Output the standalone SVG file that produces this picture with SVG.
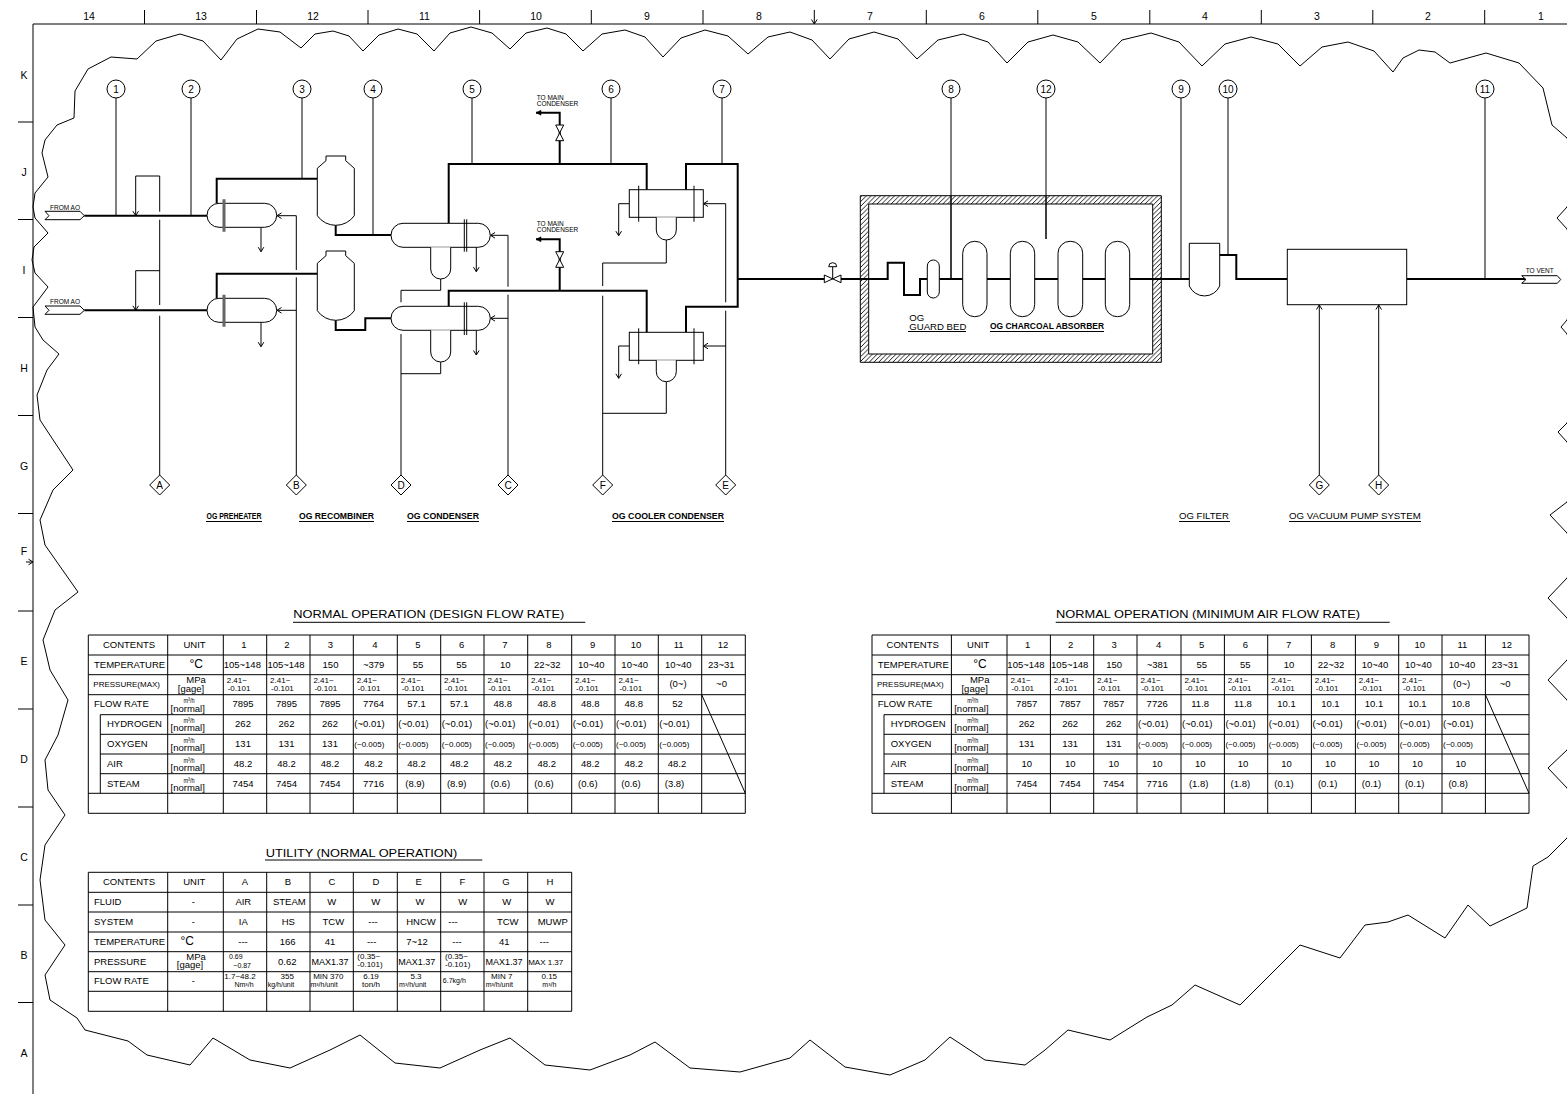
<svg xmlns="http://www.w3.org/2000/svg" width="1567" height="1094" viewBox="0 0 1567 1094">
<style>
text{font-family:"Liberation Sans",Arial,sans-serif;fill:#000;font-size:9.5px}
.c{text-anchor:middle}
.s8{font-size:8px}
.s7{font-size:7px}
.f{font-size:6.5px}
.n{font-size:10px;text-anchor:middle}
.r{font-size:10.5px;text-anchor:middle}
.ttl{font-size:11.5px}
.b{font-weight:700;font-size:8.8px}
.lbl{font-size:9.6px}
.deg{font-size:12px;text-anchor:middle}
.ln,.th,.sh,.grid{fill:none;stroke:#000}
.ln{stroke-width:1}
.th{stroke-width:2}
.sh{stroke-width:1;fill:#fff}
.grid{stroke-width:1}
.in{marker-end:url(#a)}
.in2{marker-end:url(#af)}
</style>
<defs>
<marker id="a" markerUnits="userSpaceOnUse" markerWidth="8" markerHeight="8" refX="6" refY="4" orient="auto"><path d="M1.5,1.2 L6,4 L1.5,6.8" fill="none" stroke="#000" stroke-width="1"/></marker>
<marker id="af" markerUnits="userSpaceOnUse" markerWidth="8" markerHeight="8" refX="6" refY="4" orient="auto"><path d="M1,1.5 L6,4 L1,6.5Z" fill="#000" stroke="#000" stroke-width=".5"/></marker>
<pattern id="h" patternUnits="userSpaceOnUse" width="4.7" height="4.7"><path d="M-1,1 L1,-1 M0,4.7 L4.7,0 M3.7,5.7 L5.7,3.7" stroke="#000" stroke-width=".9"/></pattern>
<path id="grid15" class="grid" d="M88.3,635H745.3V813.3H88.3Z M167.7,635V813.3 M223.3,635V813.3 M266.7,635V813.3 M310,635V813.3 M353.3,635V813.3 M397.3,635V813.3 M440.7,635V813.3 M484,635V813.3 M527.7,635V813.3 M571.7,635V813.3 M615,635V813.3 M658.3,635V813.3 M701.7,635V813.3 M88.3,655H745.3 M88.3,674.7H745.3 M88.3,694.7H745.3 M100.3,714.7H745.3 M100.3,734.3H745.3 M100.3,754H745.3 M100.3,773.7H745.3 M88.3,793.3H745.3 M100.3,714.7V793.3 M701.7,694.7L745.3,793.3"/>
</defs>

<g id="frame">
<path class="ln" d="M33,1094V24H1567"/>
<path class="ln" d="M144.5,10V24M256.5,10V24M368,10V24M479.6,10V24M591.3,10V24M703,10V24M926.3,10V24M1037.8,10V24M1149.8,10V24M1261.3,10V24M1372.8,10V24M1484.7,10V24"/>
<path class="ln in" d="M814.3,10V24"/>
<path class="ln" d="M18,122H33M18,219.5H33M18,317.5H33M18,415.5H33M18,513.5H33M18,611H33M18,709H33M18,807H33M18,905H33M18,1002.5H33"/>
<path class="ln in" d="M26,562H33"/>
<text class="r" x="89" y="20">14</text><text class="r" x="201" y="20">13</text><text class="r" x="313" y="20">12</text><text class="r" x="424.5" y="20">11</text><text class="r" x="536" y="20">10</text><text class="r" x="647" y="20">9</text><text class="r" x="759" y="20">8</text><text class="r" x="870" y="20">7</text><text class="r" x="982" y="20">6</text><text class="r" x="1094" y="20">5</text><text class="r" x="1205" y="20">4</text><text class="r" x="1317" y="20">3</text><text class="r" x="1428" y="20">2</text><text class="r" x="1541" y="20">1</text>
<text class="r" x="24" y="79">K</text><text class="r" x="24" y="176">J</text><text class="r" x="24" y="274">I</text><text class="r" x="24" y="372">H</text><text class="r" x="24" y="470">G</text><text class="r" x="24" y="555">F</text><text class="r" x="24" y="665">E</text><text class="r" x="24" y="763">D</text><text class="r" x="24" y="861">C</text><text class="r" x="24" y="959">B</text><text class="r" x="24" y="1057">A</text>
</g>

<path id="cloud" class="ln" d="M77,1018L50,1000L45,975L65,945L45,920L40,880L45,845L65,815L48,790L45,760L58,735L68,700L50,670L43,640L55,610L78,592L45,545L40,520L53,490L73,470L40,420L37,395L47,370L59,354L43,340L35,327L33,307L48,287L35,273L32,260L34,247L48,233L35,218L33,207L35,193L48,177L42,153L45,140L57,125L74,118L75,91L88,69L111,57L137,59L156,41L180,34L203,41L221,60L237,39L258,29L280,32L301,48L315,34L333,31L349,36L363,51L379,35L398,29L417,34L434,51L450,33L471,27L492,33L510,49L526,33L547,28L566,34L583,51L602,34L625,30L645,37L663,57L681,38L705,30L728,36L748,54L768,37L790,32L812,40L830,59L849,39L874,32L898,39L917,59L938,40L963,34L988,42L1007,63L1028,42L1053,35L1078,42L1100,63L1122,40L1151,33L1179,42L1202,66L1225,44L1251,37L1278,44L1300,66L1322,47L1348,42L1374,51L1393,72L1403,58L1419,50L1435,52L1450,63L1486,53L1519,63L1543,88L1552,125L1567,138L1580,170L1567,207L1557,218L1567,229L1580,275L1567,320L1561,327L1567,334L1580,380L1567,423L1558,432L1567,442L1580,470L1567,502L1550,515L1567,533L1580,555L1567,578L1548,598L1567,618L1580,640L1567,660L1548,680L1567,700L1580,725L1567,750L1548,768L1567,788L1580,815L1567,838L1548,857L1533,866L1527,908L1490,926L1468,905L1445,938L1408,915L1388,922L1365,925L1340,958L1300,945L1270,975L1240,1005L1195,985L1172,1005L1147,1017L1110,1040L1068,1030L1045,1050L1025,1065L985,1060L950,1037L925,1060L890,1075L845,1067L810,1040L790,1058L740,1072L690,1068L655,1042L630,1055L590,1070L545,1065L510,1038L480,1050L440,1068L395,1063L360,1035L330,1050L290,1068L250,1060L213,1038L190,1065L147,1055L128,1041L85,1030Z"/>

<g id="connectors">
<path class="ln" d="M116,98V215.7M191,98V215.7M302,98V178.7M373,98V235M472,98V164M611,98V164M722,98V164M951,98V279M1046,98V239M1181,98V279M1228,98V255M1485,98V279"/>
<path class="th" d="M84.3,215.7H207M84.3,310.3H207"/>
<path class="th" d="M216.7,203.3V178.7H317.3M216.7,298.3V273.7H317.3"/>
<path class="th" d="M335.7,225.3V235H391M335.7,320.3V330H365.3V318.3H391"/>
<path class="th" d="M448.7,223.3V164H646.7V189.7M448.7,306.3V290.7H646.7V332.3"/>
<path class="th" d="M686,189.7V164H737.7V306.7H686V332.3"/>
<path class="th" d="M737.7,279H824.3M841,279H887.7V262.7H904V295H920V279H927.3M939.3,279H962.7M987,279H1010.3M1034.7,279H1058M1082.7,279H1105.3M1129.7,279H1189.3M1219.7,255H1236.3V279H1287.3M1406.7,279H1526"/>
<path class="th in2" d="M559.7,164V112.7H536"/>
<path class="th in2" d="M559.7,290.7V239.3H536"/>
<path class="ln" d="M159.7,211.7V176H135.7"/>
<path class="ln in" d="M135.7,176V215.7"/>
<path class="ln" d="M159.7,219.7V305M159.7,315.7V475M159.7,270.7H135.7"/>
<path class="ln in" d="M135.7,270.7V310.3"/>
<path class="ln" d="M296.3,270V215.7M296.3,277.3V475"/>
<path class="ln in" d="M296.3,215.7H277"/>
<path class="ln in" d="M296.3,310.3H277"/>
<path class="ln in" d="M261,227.3V251.7"/>
<path class="ln in" d="M261,322.3V346.7"/>
<path class="ln in" d="M476.3,247.3V271.7"/>
<path class="ln in" d="M476.3,330.3V355"/>
<path class="ln in" d="M629.3,203.7H618.7V235.7"/>
<path class="ln in" d="M629.3,346H618.7V378.3"/>
<path class="ln" d="M440.7,279V290.3H401V302.3M401,334V475M440.7,362V373.7H401"/>
<path class="ln" d="M508,286.7V235.3M508,294.7V475"/>
<path class="ln in" d="M508,235.3H490.5"/>
<path class="ln in" d="M508,318.3H490.5"/>
<path class="ln" d="M666.3,240V263H602.7V286M602.7,295.7V475M666.3,381.7V413.3H602.7"/>
<path class="ln" d="M725.7,302.3V203.7M725.7,310.7V475"/>
<path class="ln in" d="M725.7,203.7H703.5"/>
<path class="ln in" d="M725.7,346H703.5"/>
<path class="ln in" d="M1319.3,475V305"/>
<path class="ln in" d="M1378.7,475V305"/>
</g>

<g id="flags">
<g id="from-ao-1"><path class="sh" d="M45,211.3H80L84.3,215.7L80,219.7H45L49,215.7Z"/><text class="f" x="50" y="209.5">FROM AO</text></g>
<g id="from-ao-2"><path class="sh" d="M45,306H80L84.3,310.3L80,314.3H45L49,310.3Z"/><text class="f" x="50" y="304">FROM AO</text></g>
<g id="to-vent"><path class="sh" d="M1521.7,275.7H1557.3L1560.7,279.5L1557.3,283.3H1521.7L1526,279.5Z"/><text class="f" x="1525.7" y="273">TO VENT</text></g>
</g>

<g id="og-preheater">
<rect class="sh" x="207" y="203.3" width="69.7" height="24" rx="12"/>
<rect class="sh" x="207" y="298.3" width="69.7" height="24" rx="12"/>
<path d="M224,199.3V231.7M224,294.7V326.7" fill="none" stroke="#666" stroke-width="3"/>
</g>
<g id="og-recombiner">
<path class="sh" d="M326,156H345.7V160.7L354.3,168.3V215.7A22.6,22.6 0 0 1 317.3,215.7V168.3L326,160.7Z"/>
<path class="sh" d="M326,251H345.7V255.7L354.3,263.3V310.7A22.6,22.6 0 0 1 317.3,310.7V263.3L326,255.7Z"/>
</g>
<g id="og-condenser">
<rect class="sh" x="391" y="223.3" width="99.3" height="24" rx="12"/>
<rect class="sh" x="391" y="306.3" width="99.3" height="24" rx="12"/>
<path class="ln" d="M464.3,219.3V251.7M466.7,219.3V251.7M464.3,302.3V335M466.7,302.3V335"/>
<path class="sh" d="M430.7,247.3V269A10,10 0 0 0 450.7,269V247.3"/>
<path class="sh" d="M430.7,330.3V352A10,10 0 0 0 450.7,352V330.3"/>
</g>
<g id="og-cooler-condenser">
<rect class="sh" x="629.3" y="189.7" width="74" height="27.6"/>
<rect class="sh" x="629.3" y="332.3" width="74" height="28"/>
<path class="ln" d="M638.7,185.7V221.7M694,185.7V221.7M638.7,328.3V364.3M694,328.3V364.3"/>
<path class="sh" d="M656.3,217.3V230A10,10 0 0 0 676.3,230V217.3"/>
<path class="sh" d="M656.3,360.3V371.7A10,10 0 0 0 676.3,371.7V360.3"/>
</g>
<g id="valves">
<path class="sh" d="M555.7,125H563.7L555.7,140.7H563.7Z"/>
<path class="sh" d="M555.7,251.7H563.7L555.7,267.3H563.7Z"/>
<path class="sh" d="M824.3,275L841,282.7V275L824.3,282.7Z"/>
<path class="ln" d="M832.7,279V267"/>
<path d="M828.7,266.7A4,4 0 0 1 836.7,266.7Z" fill="#fff" stroke="#000" stroke-width="1"/>
<text class="f" x="536.7" y="100">TO MAIN</text><text class="f" x="536.7" y="105.7">CONDENSER</text>
<text class="f" x="536.7" y="226">TO MAIN</text><text class="f" x="536.7" y="231.7">CONDENSER</text>
</g>
<g id="og-charcoal-vault">
<path d="M860.3,195.7H1161.3V362.3H860.3ZM868.7,204V354H1152.7V204Z" fill="url(#h)" fill-rule="evenodd" stroke="#000" stroke-width="1"/>
<path class="th" d="M860.3,279H887.7M1129.7,279H1161.3"/>
<path class="ln" d="M951,196V279M1046,196V239"/>
<rect class="sh" x="927.3" y="260" width="12" height="38" rx="6"/>
<rect class="sh" x="962.7" y="241.3" width="24.3" height="75.4" rx="12"/>
<rect class="sh" x="1010.3" y="241.3" width="24.4" height="75.4" rx="12"/>
<rect class="sh" x="1058" y="241.3" width="24.7" height="75.4" rx="12"/>
<rect class="sh" x="1105.3" y="241.3" width="24.4" height="75.4" rx="12"/>
<text class="lbl" x="909.3" y="320.7">OG</text><text class="lbl" x="909.3" y="330">GUARD BED</text>
<text class="b" x="990" y="328.7" textLength="114" lengthAdjust="spacingAndGlyphs">OG CHARCOAL ABSORBER</text>
<path class="ln" d="M908,331.5H966M990,331.5H1104"/>
</g>
<g id="og-filter">
<path class="sh" d="M1189.3,243.3H1219.7V286A16.6,16.6 0 0 1 1189.3,286Z"/>
<text class="lbl" x="1179" y="519">OG FILTER</text><path class="ln" d="M1179,521.5H1230"/>
</g>
<g id="og-vacuum-pump">
<rect class="sh" x="1287.3" y="249.3" width="119.4" height="55.4"/>
<text class="lbl" x="1289" y="519" textLength="131.7" lengthAdjust="spacingAndGlyphs">OG VACUUM PUMP SYSTEM</text><path class="ln" d="M1289,521.5H1421"/>
</g>
<g id="section-labels">
<text class="b" x="206.5" y="519" textLength="55" lengthAdjust="spacingAndGlyphs">OG PREHEATER</text>
<text class="b" x="299" y="519" textLength="75" lengthAdjust="spacingAndGlyphs">OG RECOMBINER</text>
<text class="b" x="407" y="519" textLength="72" lengthAdjust="spacingAndGlyphs">OG CONDENSER</text>
<text class="b" x="612" y="519" textLength="112" lengthAdjust="spacingAndGlyphs">OG COOLER CONDENSER</text>
<path class="ln" d="M206,521.5H262M299,521.5H374M407,521.5H479M612,521.5H724"/>
</g>

<g id="tags">
<g id="tag1"><circle class="sh" cx="116" cy="89" r="9"/><text class="n" x="116" y="92.5">1</text></g>
<g id="tag2"><circle class="sh" cx="191" cy="89" r="9"/><text class="n" x="191" y="92.5">2</text></g>
<g id="tag3"><circle class="sh" cx="302" cy="89" r="9"/><text class="n" x="302" y="92.5">3</text></g>
<g id="tag4"><circle class="sh" cx="373" cy="89" r="9"/><text class="n" x="373" y="92.5">4</text></g>
<g id="tag5"><circle class="sh" cx="472" cy="89" r="9"/><text class="n" x="472" y="92.5">5</text></g>
<g id="tag6"><circle class="sh" cx="611" cy="89" r="9"/><text class="n" x="611" y="92.5">6</text></g>
<g id="tag7"><circle class="sh" cx="722" cy="89" r="9"/><text class="n" x="722" y="92.5">7</text></g>
<g id="tag8"><circle class="sh" cx="951" cy="89" r="9"/><text class="n" x="951" y="92.5">8</text></g>
<g id="tag12"><circle class="sh" cx="1046" cy="89" r="9"/><text class="n" x="1046" y="92.5">12</text></g>
<g id="tag9"><circle class="sh" cx="1181" cy="89" r="9"/><text class="n" x="1181" y="92.5">9</text></g>
<g id="tag10"><circle class="sh" cx="1228" cy="89" r="9"/><text class="n" x="1228" y="92.5">10</text></g>
<g id="tag11"><circle class="sh" cx="1485" cy="89" r="9"/><text class="n" x="1485" y="92.5">11</text></g>
</g>
<g id="utility-tags">
<g id="utilA"><path class="sh" d="M159.7,475L169.7,485L159.7,495L149.7,485Z"/><text class="n" x="159.7" y="488.6">A</text></g>
<g id="utilB"><path class="sh" d="M296.3,475L306.3,485L296.3,495L286.3,485Z"/><text class="n" x="296.3" y="488.6">B</text></g>
<g id="utilD"><path class="sh" d="M401,475L411,485L401,495L391,485Z"/><text class="n" x="401" y="488.6">D</text></g>
<g id="utilC"><path class="sh" d="M508,475L518,485L508,495L498,485Z"/><text class="n" x="508" y="488.6">C</text></g>
<g id="utilF"><path class="sh" d="M602.7,475L612.7,485L602.7,495L592.7,485Z"/><text class="n" x="602.7" y="488.6">F</text></g>
<g id="utilE"><path class="sh" d="M725.7,475L735.7,485L725.7,495L715.7,485Z"/><text class="n" x="725.7" y="488.6">E</text></g>
<g id="utilG"><path class="sh" d="M1319.3,475L1329.3,485L1319.3,495L1309.3,485Z"/><text class="n" x="1319.3" y="488.6">G</text></g>
<g id="utilH"><path class="sh" d="M1378.7,475L1388.7,485L1378.7,495L1368.7,485Z"/><text class="n" x="1378.7" y="488.6">H</text></g>
</g>

<g id="table-design">
<text class="ttl" x="293.3" y="618.3" textLength="271" lengthAdjust="spacingAndGlyphs">NORMAL OPERATION (DESIGN FLOW RATE)</text><path class="ln" d="M293,622.3H585.3"/>
<use href="#grid15"/>
<text class="c" x="129" y="647.7">CONTENTS</text><text class="c" x="194.5" y="647.7">UNIT</text>
<text class="c" x="244" y="647.7">1</text><text class="c" x="287" y="647.7">2</text><text class="c" x="330.5" y="647.7">3</text><text class="c" x="375" y="647.7">4</text><text class="c" x="418" y="647.7">5</text><text class="c" x="461.7" y="647.7">6</text><text class="c" x="505" y="647.7">7</text><text class="c" x="549" y="647.7">8</text><text class="c" x="592.7" y="647.7">9</text><text class="c" x="636" y="647.7">10</text><text class="c" x="678.7" y="647.7">11</text><text class="c" x="723" y="647.7">12</text>
<text x="94" y="667.7">TEMPERATURE</text><text class="deg" x="196.3" y="668">°C</text>
<text class="c" x="242.3" y="667.7">105~148</text><text class="c" x="286" y="667.7">105~148</text><text class="c" x="330.5" y="667.7">150</text><text class="c" x="373.7" y="667.7">~379</text><text class="c" x="418" y="667.7">55</text><text class="c" x="461.5" y="667.7">55</text><text class="c" x="505.3" y="667.7">10</text><text class="c" x="547.3" y="667.7">22~32</text><text class="c" x="591.3" y="667.7">10~40</text><text class="c" x="634.7" y="667.7">10~40</text><text class="c" x="678.3" y="667.7">10~40</text><text class="c" x="721.3" y="667.7">23~31</text>
<text class="s8" x="93.3" y="687">PRESSURE(MAX)</text><text class="c" x="196" y="683.4">MPa</text><text class="c" x="191" y="691.6">[gage]</text>
<text class="s8" x="226.7" y="682.7">2.41~</text><text class="s8" x="227.7" y="691.3">-0.101</text><text class="s8" x="270.1" y="682.7">2.41~</text><text class="s8" x="271.1" y="691.3">-0.101</text><text class="s8" x="313.4" y="682.7">2.41~</text><text class="s8" x="314.4" y="691.3">-0.101</text><text class="s8" x="356.7" y="682.7">2.41~</text><text class="s8" x="357.7" y="691.3">-0.101</text><text class="s8" x="400.7" y="682.7">2.41~</text><text class="s8" x="401.7" y="691.3">-0.101</text><text class="s8" x="444.1" y="682.7">2.41~</text><text class="s8" x="445.1" y="691.3">-0.101</text><text class="s8" x="487.4" y="682.7">2.41~</text><text class="s8" x="488.4" y="691.3">-0.101</text><text class="s8" x="531.1" y="682.7">2.41~</text><text class="s8" x="532.1" y="691.3">-0.101</text><text class="s8" x="575.1" y="682.7">2.41~</text><text class="s8" x="576.1" y="691.3">-0.101</text><text class="s8" x="618.4" y="682.7">2.41~</text><text class="s8" x="619.4" y="691.3">-0.101</text>
<text class="c" x="678" y="687">(0~)</text><text class="c" x="721.5" y="687">~0</text>
<text x="94" y="707.3">FLOW RATE</text><text class="s8 c" x="189" y="703.3" textLength="11" lengthAdjust="spacingAndGlyphs">m³/h</text><text class="c" x="187.7" y="711.6">[normal]</text>
<text class="c" x="243" y="707.3">7895</text><text class="c" x="286.5" y="707.3">7895</text><text class="c" x="330" y="707.3">7895</text><text class="c" x="373.5" y="707.3">7764</text><text class="c" x="416.5" y="707.3">57.1</text><text class="c" x="459.3" y="707.3">57.1</text><text class="c" x="502.8" y="707.3">48.8</text><text class="c" x="546.7" y="707.3">48.8</text><text class="c" x="590.3" y="707.3">48.8</text><text class="c" x="633.7" y="707.3">48.8</text><text class="c" x="677.5" y="707.3">52</text>
<text x="107" y="727.3">HYDROGEN</text><text class="s8 c" x="189" y="723.1" textLength="11" lengthAdjust="spacingAndGlyphs">m³/h</text><text class="c" x="187.7" y="731.4">[normal]</text>
<text class="c" x="243" y="727.3">262</text><text class="c" x="286.5" y="727.3">262</text><text class="c" x="330" y="727.3">262</text><text x="354.3" y="727.3">(~0.01)</text><text x="398.3" y="727.3">(~0.01)</text><text x="441.7" y="727.3">(~0.01)</text><text x="485" y="727.3">(~0.01)</text><text x="528.7" y="727.3">(~0.01)</text><text x="572.7" y="727.3">(~0.01)</text><text x="616" y="727.3">(~0.01)</text><text x="659.3" y="727.3">(~0.01)</text>
<text x="107" y="747">OXYGEN</text><text class="s8 c" x="189" y="742.8" textLength="11" lengthAdjust="spacingAndGlyphs">m³/h</text><text class="c" x="187.7" y="751.1">[normal]</text>
<text class="c" x="243" y="747">131</text><text class="c" x="286.5" y="747">131</text><text class="c" x="330" y="747">131</text><text class="s8" x="354.3" y="746.8">(~0.005)</text><text class="s8" x="398.3" y="746.8">(~0.005)</text><text class="s8" x="441.7" y="746.8">(~0.005)</text><text class="s8" x="485" y="746.8">(~0.005)</text><text class="s8" x="528.7" y="746.8">(~0.005)</text><text class="s8" x="572.7" y="746.8">(~0.005)</text><text class="s8" x="616" y="746.8">(~0.005)</text><text class="s8" x="659.3" y="746.8">(~0.005)</text>
<text x="107" y="766.7">AIR</text><text class="s8 c" x="189" y="762.5" textLength="11" lengthAdjust="spacingAndGlyphs">m³/h</text><text class="c" x="187.7" y="770.8">[normal]</text>
<text class="c" x="243" y="766.7">48.2</text><text class="c" x="286.5" y="766.7">48.2</text><text class="c" x="330" y="766.7">48.2</text><text class="c" x="373.5" y="766.7">48.2</text><text class="c" x="416.5" y="766.7">48.2</text><text class="c" x="459.3" y="766.7">48.2</text><text class="c" x="502.8" y="766.7">48.2</text><text class="c" x="546.7" y="766.7">48.2</text><text class="c" x="590.3" y="766.7">48.2</text><text class="c" x="633.7" y="766.7">48.2</text><text class="c" x="677" y="766.7">48.2</text>
<text x="107" y="787">STEAM</text><text class="s8 c" x="189" y="782.5" textLength="11" lengthAdjust="spacingAndGlyphs">m³/h</text><text class="c" x="187.7" y="790.8">[normal]</text>
<text class="c" x="243" y="787">7454</text><text class="c" x="286.5" y="787">7454</text><text class="c" x="330" y="787">7454</text><text class="c" x="373.5" y="787">7716</text><text class="c" x="415" y="787">(8.9)</text><text class="c" x="456.7" y="787">(8.9)</text><text class="c" x="500.3" y="787">(0.6)</text><text class="c" x="544" y="787">(0.6)</text><text class="c" x="587.8" y="787">(0.6)</text><text class="c" x="631" y="787">(0.6)</text><text class="c" x="674.5" y="787">(3.8)</text>
</g>

<g id="table-minimum" transform="translate(783.7,0)">
<text class="ttl" x="272.3" y="618.3" textLength="304" lengthAdjust="spacingAndGlyphs">NORMAL OPERATION (MINIMUM AIR FLOW RATE)</text><path class="ln" d="M272,622.3H606"/>
<use href="#grid15"/>
<text class="c" x="129" y="647.7">CONTENTS</text><text class="c" x="194.5" y="647.7">UNIT</text>
<text class="c" x="244" y="647.7">1</text><text class="c" x="287" y="647.7">2</text><text class="c" x="330.5" y="647.7">3</text><text class="c" x="375" y="647.7">4</text><text class="c" x="418" y="647.7">5</text><text class="c" x="461.7" y="647.7">6</text><text class="c" x="505" y="647.7">7</text><text class="c" x="549" y="647.7">8</text><text class="c" x="592.7" y="647.7">9</text><text class="c" x="636" y="647.7">10</text><text class="c" x="678.7" y="647.7">11</text><text class="c" x="723" y="647.7">12</text>
<text x="94" y="667.7">TEMPERATURE</text><text class="deg" x="196.3" y="668">°C</text>
<text class="c" x="242.3" y="667.7">105~148</text><text class="c" x="286" y="667.7">105~148</text><text class="c" x="330.5" y="667.7">150</text><text class="c" x="373.7" y="667.7">~381</text><text class="c" x="418" y="667.7">55</text><text class="c" x="461.5" y="667.7">55</text><text class="c" x="505.3" y="667.7">10</text><text class="c" x="547.3" y="667.7">22~32</text><text class="c" x="591.3" y="667.7">10~40</text><text class="c" x="634.7" y="667.7">10~40</text><text class="c" x="678.3" y="667.7">10~40</text><text class="c" x="721.3" y="667.7">23~31</text>
<text class="s8" x="93.3" y="687">PRESSURE(MAX)</text><text class="c" x="196" y="683.4">MPa</text><text class="c" x="191" y="691.6">[gage]</text>
<text class="s8" x="226.7" y="682.7">2.41~</text><text class="s8" x="227.7" y="691.3">-0.101</text><text class="s8" x="270.1" y="682.7">2.41~</text><text class="s8" x="271.1" y="691.3">-0.101</text><text class="s8" x="313.4" y="682.7">2.41~</text><text class="s8" x="314.4" y="691.3">-0.101</text><text class="s8" x="356.7" y="682.7">2.41~</text><text class="s8" x="357.7" y="691.3">-0.101</text><text class="s8" x="400.7" y="682.7">2.41~</text><text class="s8" x="401.7" y="691.3">-0.101</text><text class="s8" x="444.1" y="682.7">2.41~</text><text class="s8" x="445.1" y="691.3">-0.101</text><text class="s8" x="487.4" y="682.7">2.41~</text><text class="s8" x="488.4" y="691.3">-0.101</text><text class="s8" x="531.1" y="682.7">2.41~</text><text class="s8" x="532.1" y="691.3">-0.101</text><text class="s8" x="575.1" y="682.7">2.41~</text><text class="s8" x="576.1" y="691.3">-0.101</text><text class="s8" x="618.4" y="682.7">2.41~</text><text class="s8" x="619.4" y="691.3">-0.101</text>
<text class="c" x="678" y="687">(0~)</text><text class="c" x="721.5" y="687">~0</text>
<text x="94" y="707.3">FLOW RATE</text><text class="s8 c" x="189" y="703.3" textLength="11" lengthAdjust="spacingAndGlyphs">m³/h</text><text class="c" x="187.7" y="711.6">[normal]</text>
<text class="c" x="243" y="707.3">7857</text><text class="c" x="286.5" y="707.3">7857</text><text class="c" x="330" y="707.3">7857</text><text class="c" x="373.5" y="707.3">7726</text><text class="c" x="416.5" y="707.3">11.8</text><text class="c" x="459.3" y="707.3">11.8</text><text class="c" x="502.8" y="707.3">10.1</text><text class="c" x="546.7" y="707.3">10.1</text><text class="c" x="590.3" y="707.3">10.1</text><text class="c" x="633.7" y="707.3">10.1</text><text class="c" x="677" y="707.3">10.8</text>
<text x="107" y="727.3">HYDROGEN</text><text class="s8 c" x="189" y="723.1" textLength="11" lengthAdjust="spacingAndGlyphs">m³/h</text><text class="c" x="187.7" y="731.4">[normal]</text>
<text class="c" x="243" y="727.3">262</text><text class="c" x="286.5" y="727.3">262</text><text class="c" x="330" y="727.3">262</text><text x="354.3" y="727.3">(~0.01)</text><text x="398.3" y="727.3">(~0.01)</text><text x="441.7" y="727.3">(~0.01)</text><text x="485" y="727.3">(~0.01)</text><text x="528.7" y="727.3">(~0.01)</text><text x="572.7" y="727.3">(~0.01)</text><text x="616" y="727.3">(~0.01)</text><text x="659.3" y="727.3">(~0.01)</text>
<text x="107" y="747">OXYGEN</text><text class="s8 c" x="189" y="742.8" textLength="11" lengthAdjust="spacingAndGlyphs">m³/h</text><text class="c" x="187.7" y="751.1">[normal]</text>
<text class="c" x="243" y="747">131</text><text class="c" x="286.5" y="747">131</text><text class="c" x="330" y="747">131</text><text class="s8" x="354.3" y="746.8">(~0.005)</text><text class="s8" x="398.3" y="746.8">(~0.005)</text><text class="s8" x="441.7" y="746.8">(~0.005)</text><text class="s8" x="485" y="746.8">(~0.005)</text><text class="s8" x="528.7" y="746.8">(~0.005)</text><text class="s8" x="572.7" y="746.8">(~0.005)</text><text class="s8" x="616" y="746.8">(~0.005)</text><text class="s8" x="659.3" y="746.8">(~0.005)</text>
<text x="107" y="766.7">AIR</text><text class="s8 c" x="189" y="762.5" textLength="11" lengthAdjust="spacingAndGlyphs">m³/h</text><text class="c" x="187.7" y="770.8">[normal]</text>
<text class="c" x="243" y="766.7">10</text><text class="c" x="286.5" y="766.7">10</text><text class="c" x="330" y="766.7">10</text><text class="c" x="373.5" y="766.7">10</text><text class="c" x="416.5" y="766.7">10</text><text class="c" x="459.3" y="766.7">10</text><text class="c" x="502.8" y="766.7">10</text><text class="c" x="546.7" y="766.7">10</text><text class="c" x="590.3" y="766.7">10</text><text class="c" x="633.7" y="766.7">10</text><text class="c" x="677" y="766.7">10</text>
<text x="107" y="787">STEAM</text><text class="s8 c" x="189" y="782.5" textLength="11" lengthAdjust="spacingAndGlyphs">m³/h</text><text class="c" x="187.7" y="790.8">[normal]</text>
<text class="c" x="243" y="787">7454</text><text class="c" x="286.5" y="787">7454</text><text class="c" x="330" y="787">7454</text><text class="c" x="373.5" y="787">7716</text><text class="c" x="415" y="787">(1.8)</text><text class="c" x="456.7" y="787">(1.8)</text><text class="c" x="500.3" y="787">(0.1)</text><text class="c" x="544" y="787">(0.1)</text><text class="c" x="587.8" y="787">(0.1)</text><text class="c" x="631" y="787">(0.1)</text><text class="c" x="674.5" y="787">(0.8)</text>
</g>

<g id="table-utility">
<text class="ttl" x="265.7" y="856.7" textLength="191.6" lengthAdjust="spacingAndGlyphs">UTILITY (NORMAL OPERATION)</text><path class="ln" d="M265,860H482.3"/>
<path class="grid" d="M88.3,872.3H571.7V1011.3H88.3Z M167.7,872.3V1011.3 M223.3,872.3V1011.3 M266.7,872.3V1011.3 M310,872.3V1011.3 M353.3,872.3V1011.3 M397.3,872.3V1011.3 M440.7,872.3V1011.3 M484,872.3V1011.3 M527.7,872.3V1011.3 M88.3,892.3H571.7 M88.3,912H571.7 M88.3,932H571.7 M88.3,951.7H571.7 M88.3,971.7H571.7 M88.3,991.3H571.7"/>
<text class="c" x="129" y="885">CONTENTS</text><text class="c" x="194.3" y="885">UNIT</text><text class="c" x="245" y="885">A</text><text class="c" x="288" y="885">B</text><text class="c" x="332" y="885">C</text><text class="c" x="376" y="885">D</text><text class="c" x="418.7" y="885">E</text><text class="c" x="462.3" y="885">F</text><text class="c" x="506" y="885">G</text><text class="c" x="550" y="885">H</text>
<text x="94" y="905">FLUID</text><text class="c" x="193.3" y="905">-</text><text class="c" x="243.3" y="905">AIR</text><text class="c" x="289.3" y="905">STEAM</text><text class="c" x="331.7" y="905">W</text><text class="c" x="375.7" y="905">W</text><text class="c" x="420" y="905">W</text><text class="c" x="462.7" y="905">W</text><text class="c" x="506.7" y="905">W</text><text class="c" x="550" y="905">W</text>
<text x="94" y="925">SYSTEM</text><text class="c" x="193.3" y="925">-</text><text class="c" x="243.3" y="925">IA</text><text class="c" x="288.3" y="925">HS</text><text class="c" x="333.3" y="925">TCW</text><text class="c" x="373" y="925">---</text><text class="c" x="421" y="925">HNCW</text><text class="c" x="453" y="925">---</text><text class="c" x="507.7" y="925">TCW</text><text class="c" x="552.7" y="925">MUWP</text>
<text x="94" y="945">TEMPERATURE</text><text class="deg" x="187.3" y="945">°C</text><text class="c" x="243" y="945">---</text><text class="c" x="287.7" y="945">166</text><text class="c" x="330" y="945">41</text><text class="c" x="371.7" y="945">---</text><text class="c" x="417" y="945">7~12</text><text class="c" x="457" y="945">---</text><text class="c" x="504.3" y="945">41</text><text class="c" x="544.3" y="945">---</text>
<text x="94" y="965">PRESSURE</text><text class="c" x="196" y="960">MPa</text><text class="c" x="190" y="968">[gage]</text>
<text class="s7" x="229" y="959.3">0.69</text><text class="s7" x="233.3" y="967.7">~0.87</text><text class="c" x="287.3" y="965">0.62</text><text class="c" x="330" y="965" style="font-size:9px">MAX1.37</text><text class="s8" x="357.3" y="959.3">(0.35~</text><text class="s8" x="357.3" y="967.3">-0.101)</text><text class="c" x="416.7" y="965" style="font-size:9px">MAX1.37</text><text class="s8" x="445" y="959.3">(0.35~</text><text class="s8" x="445" y="967.3">-0.101)</text><text class="c" x="504" y="965" style="font-size:9px">MAX1.37</text><text class="s8 c" x="545.7" y="965">MAX 1.37</text>
<text x="94" y="984">FLOW RATE</text><text class="c" x="193.3" y="984">-</text>
<text class="s8 c" x="240" y="979">1.7~48.2</text><text class="s7 c" x="244" y="987.3">Nm³/h</text><text class="s8 c" x="287.3" y="979">355</text><text class="s7 c" x="281" y="987.3">kg/h/unit</text><text class="s8 c" x="328.3" y="979">MIN 370</text><text class="s7 c" x="324" y="987.3">m³/h/unit</text><text class="s8 c" x="371" y="979">6.19</text><text class="s8 c" x="371" y="987.3">ton/h</text><text class="s8 c" x="416" y="979">5.3</text><text class="s7 c" x="412.7" y="987.3">m³/h/unit</text><text class="s7 c" x="454.3" y="983">6.7kg/h</text><text class="s8 c" x="501.7" y="979">MIN 7</text><text class="s7 c" x="499.3" y="987.3">m³/h/unit</text><text class="s8 c" x="549.3" y="979">0.15</text><text class="s7 c" x="549.3" y="987.3">m³/h</text>
</g>
</svg>
